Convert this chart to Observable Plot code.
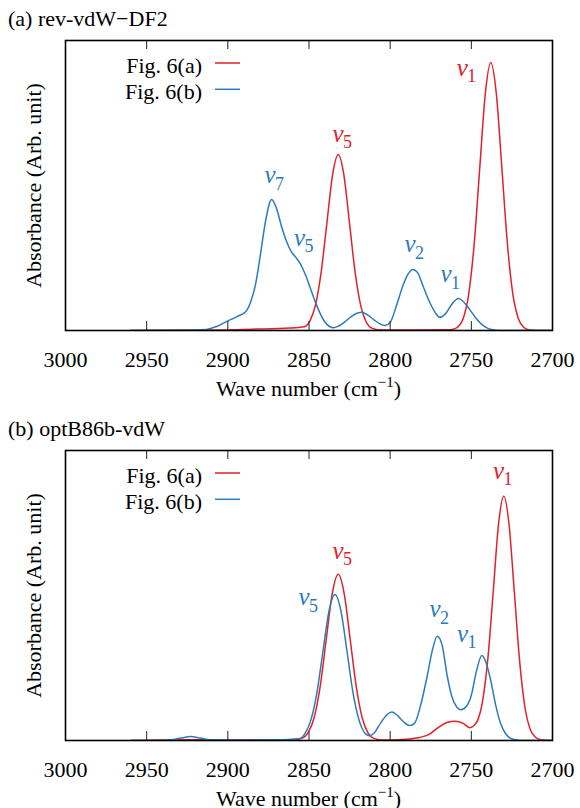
<!DOCTYPE html>
<html>
<head>
<meta charset="utf-8">
<script src="https://cdn.jsdelivr.net/npm/d3@7"></script>
<script src="https://cdn.jsdelivr.net/npm/@observablehq/plot@0.6"></script>
<style>
  body { margin: 0; background: #fff; font-family: "Liberation Serif", "Times New Roman", serif; color: #000; }
  .panel-title { height: 26px; padding-top: 4px; padding-left: 8px; font-size: 22px; line-height: 30px; white-space: nowrap; }
  svg { display: block; }
  svg text, svg tspan, svg g { font-family: "Liberation Serif", "Times New Roman", serif !important; }
</style>
</head>
<body>
<div id="chart"></div>
<script>
// Wavenumber axis (cm^-1), drawn high to low
const xTicks = [3000, 2950, 2900, 2850, 2800, 2750, 2700];
const seriesKeys = ["a", "b"];
const seriesNames = ["Fig. 6(a)", "Fig. 6(b)"];
const panelTitles = ["(a) rev-vdW\u2212DF2", "(b) optB86b-vdW"];

// Panel (a): rev-vdW-DF2 spectra [wavenumber, absorbance]
const revRed = [
  [2960, 0], [2930, 0.001], [2905, 0.002], [2885, 0.005], [2862, 0.009], [2853, 0.014],
  [2849.5, 0.035], [2846, 0.095], [2842.5, 0.218], [2839, 0.40], [2835.5, 0.58], [2832, 0.657],
  [2828.5, 0.58], [2825, 0.398], [2821.5, 0.213], [2818, 0.089], [2814.5, 0.029], [2811, 0.008],
  [2805, 0.002], [2785, 0.002], [2765, 0.003], [2761.8, 0.004], [2758.4, 0.013], [2755, 0.045],
  [2751.6, 0.137], [2748.2, 0.326], [2744.8, 0.607], [2741.4, 0.883], [2738, 1.0], [2734.6, 0.883],
  [2731.2, 0.607], [2727.8, 0.325], [2724.4, 0.135], [2721, 0.044], [2717.6, 0.011], [2714.2, 0.002],
  [2705, 0], [2700, 0]
];
const revBlue = [
  [2960, 0], [2940, 0.001], [2920, 0.002], [2913, 0.004], [2907, 0.015], [2900, 0.036],
  [2894, 0.053], [2889, 0.07], [2886, 0.105], [2883, 0.17], [2880, 0.28], [2877, 0.40],
  [2873, 0.489], [2870, 0.455], [2867, 0.39], [2864, 0.335], [2861, 0.295], [2858, 0.272],
  [2855, 0.245], [2852, 0.205], [2849, 0.155], [2846, 0.105], [2843, 0.062], [2840, 0.03],
  [2837, 0.014], [2835, 0.01], [2832, 0.016], [2828, 0.032], [2824, 0.052], [2820, 0.065],
  [2817.5, 0.068], [2814, 0.058], [2810, 0.04], [2806, 0.024], [2803, 0.019], [2800, 0.03],
  [2796, 0.095], [2792, 0.17], [2789, 0.21], [2786, 0.228], [2783, 0.215], [2780, 0.17],
  [2776, 0.11], [2772, 0.065], [2769.5, 0.049], [2766, 0.062], [2762, 0.098], [2758, 0.119],
  [2755, 0.108], [2751, 0.078], [2747, 0.045], [2743, 0.02], [2739, 0.006], [2735, 0.001],
  [2730, 0], [2700, 0]
];

// Panel (b): optB86b-vdW spectra [wavenumber, absorbance]
const optRed = [
  [2960, 0], [2940, 0.002], [2925, 0.003], [2900, 0.002], [2870, 0.003], [2860, 0.004],
  [2854.2, 0.009], [2850.5, 0.03], [2846.8, 0.086], [2843.1, 0.202], [2839.4, 0.376], [2835.7, 0.547],
  [2832, 0.62], [2828.3, 0.547], [2824.6, 0.376], [2820.9, 0.201], [2817.2, 0.084], [2813.5, 0.027],
  [2809.8, 0.007], [2805, 0.002], [2795, 0.003], [2790, 0.005], [2782, 0.011], [2776, 0.023],
  [2770, 0.05], [2765, 0.067], [2760, 0.072], [2755, 0.064], [2751, 0.048], [2748.5, 0.055],
  [2746, 0.077], [2743, 0.15], [2739.75, 0.31], [2736.5, 0.556], [2733.25, 0.807], [2730, 0.912],
  [2726.75, 0.805], [2723.5, 0.553], [2720.25, 0.296], [2717, 0.125], [2713.75, 0.042], [2710.5, 0.012],
  [2707, 0.003], [2700, 0]
];
const optBlue = [
  [2960, 0], [2940, 0.001], [2935, 0.003], [2929, 0.009], [2923, 0.015], [2917, 0.009],
  [2911, 0.003], [2900, 0.002], [2870, 0.003], [2856, 0.006], [2852.5, 0.026], [2848.8, 0.077],
  [2845.1, 0.179], [2841.4, 0.333], [2837.7, 0.483], [2834, 0.545], [2830.3, 0.483], [2826.6, 0.333],
  [2822.9, 0.179], [2819.2, 0.077], [2815.5, 0.027], [2813, 0.018], [2810, 0.027], [2806, 0.064],
  [2802, 0.096], [2799, 0.106], [2796, 0.096], [2792, 0.071], [2788, 0.056], [2785, 0.064],
  [2781, 0.137], [2777, 0.246], [2774, 0.337], [2771, 0.389], [2768, 0.356], [2765, 0.246],
  [2762, 0.164], [2759, 0.125], [2756.5, 0.115], [2753, 0.128], [2750, 0.169], [2747, 0.255],
  [2743.5, 0.317], [2741, 0.292], [2738, 0.223], [2735, 0.132], [2732, 0.064], [2729, 0.026],
  [2726, 0.009], [2723, 0.003], [2720, 0], [2700, 0]
];

// Mode assignments: subscript, series, wavenumber and absorbance where the label sits
const revModes = [
  {sub: "1", s: "a", w: 2755.6, v: 0.951},
  {sub: "5", s: "a", w: 2832.1, v: 0.705},
  {sub: "7", s: "b", w: 2874.0, v: 0.549},
  {sub: "5", s: "b", w: 2855.8, v: 0.317},
  {sub: "2", s: "b", w: 2787.8, v: 0.292},
  {sub: "1", s: "b", w: 2765.6, v: 0.180}
];
const optModes = [
  {sub: "1", s: "a", w: 2733.3, v: 0.976},
  {sub: "5", s: "a", w: 2832.1, v: 0.679},
  {sub: "5", s: "b", w: 2853.1, v: 0.504},
  {sub: "2", s: "b", w: 2772.4, v: 0.460},
  {sub: "1", s: "b", w: 2755.4, v: 0.369}
];

const RED = "#e3202a";
const BLUE = "#2b7bbb";
const FONT = "'Liberation Serif', 'Times New Roman', serif";
const W = 580, H = 380;
const M = {top: 10, right: 28, bottom: 80, left: 65};

function panel(title, red, blue, modes) {
  const rows = [
    ...red.map(([w, v]) => ({w, v, s: "a"})),
    ...blue.map(([w, v]) => ({w, v, s: "b"}))
  ];
  const frameH = H - M.top - M.bottom;
  const inner = xTicks.slice(1, -1);

  const svg = Plot.plot({
    width: W, height: H,
    marginTop: M.top, marginRight: M.right, marginBottom: M.bottom, marginLeft: M.left,
    style: {fontFamily: FONT, fontSize: "22px", background: "#fff", color: "#000"},
    x: {domain: [3000, 2700], axis: null},
    y: {domain: [0, 1.082], axis: null},
    color: {domain: seriesKeys, range: [RED, BLUE]},
    marks: [
      Plot.line(rows, {x: "w", y: "v", z: "s", stroke: "s", strokeWidth: 1.5, curve: "monotone-x", clip: true}),
      Plot.tickX(inner, {x: d => d, insetTop: frameH - 9, stroke: "#222", strokeWidth: 1}),
      Plot.tickX(inner, {x: d => d, insetBottom: frameH - 9, stroke: "#222", strokeWidth: 1}),
      Plot.axisX(xTicks, {tickSize: 0, tickPadding: 21, fontSize: 22, fontFamily: FONT, tickFormat: d => String(d), label: null}),
      Plot.text(["Absorbance (Arb. unit)"], {frameAnchor: "left", textAnchor: "middle", rotate: -90, dx: -32, fontSize: 22, fontFamily: FONT, text: d => d}),
      Plot.text(modes, {x: "w", y: "v", text: () => "\u03bd", fill: "s", fontSize: 25, fontFamily: FONT, fontStyle: "italic", lineAnchor: "bottom"}),
      Plot.text(modes, {x: "w", y: "v", text: "sub", fill: "s", fontSize: 18, fontFamily: FONT, lineAnchor: "bottom", dx: 9.5, dy: 6.5}),
      Plot.frame({stroke: "#000", strokeWidth: 1.6})
    ]
  });

  const root = d3.select(svg);
  // x-axis title with superscript
  const xt = root.append("text")
    .attr("x", M.left + (W - M.left - M.right) / 2)
    .attr("y", H - M.bottom + 66)
    .attr("text-anchor", "middle")
    .attr("font-size", 22)
    .attr("fill", "#000");
  xt.append("tspan").text("Wave number (cm");
  xt.append("tspan").attr("font-size", 15).attr("dy", -9).text("\u22121");
  xt.append("tspan").attr("dy", 9).text(")");

  // legend
  const lg = root.append("g").attr("font-size", 22).attr("fill", "#000");
  seriesNames.forEach((name, i) => {
    lg.append("text").attr("x", 202).attr("y", M.top + 32.7 + i * 26.3)
      .attr("text-anchor", "end").text(name);
    lg.append("line")
      .attr("x1", 215).attr("x2", 240)
      .attr("y1", M.top + 23 + i * 26.3).attr("y2", M.top + 23 + i * 26.3)
      .attr("stroke", i === 0 ? RED : BLUE).attr("stroke-width", 1.5);
  });

  // one serif face for every text element
  root.selectAll("text, tspan").style("font-family", FONT);
  root.selectAll("text").attr("font-variant", null).style("font-variant", "normal");

  const wrap = document.createElement("div");
  const t = document.createElement("div");
  t.className = "panel-title";
  t.textContent = title;
  wrap.appendChild(t);
  wrap.appendChild(svg);
  return wrap;
}

const chart = document.getElementById("chart");
chart.appendChild(panel(panelTitles[0], revRed, revBlue, revModes));
chart.appendChild(panel(panelTitles[1], optRed, optBlue, optModes));
</script>
</body>
</html>
